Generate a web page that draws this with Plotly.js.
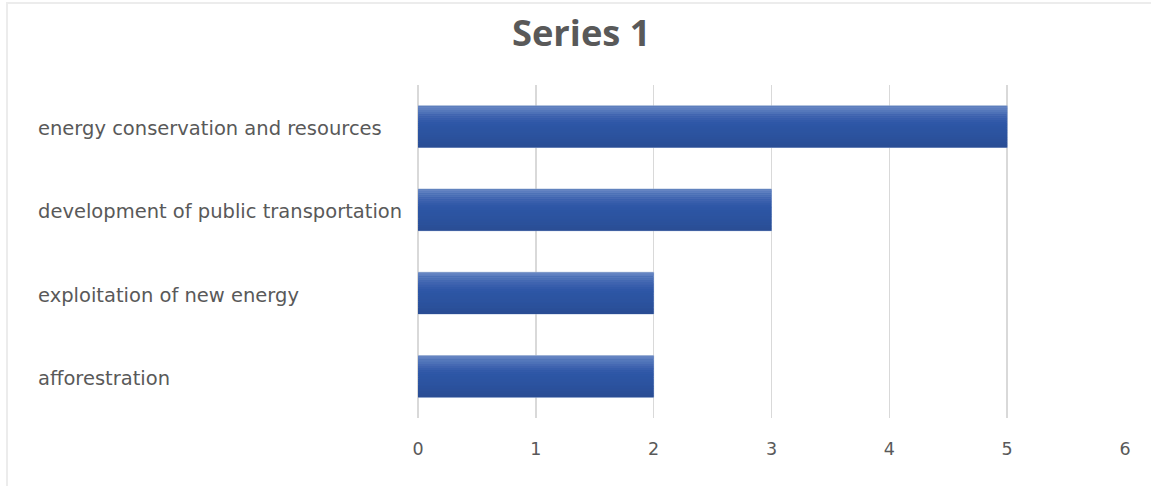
<!DOCTYPE html>
<html>
<head>
<meta charset="utf-8">
<script src="https://cdn.plot.ly/plotly-3.0.1.min.js"></script>
<style>
  html, body { margin: 0; padding: 0; background: #fff; }
  #frame { position: absolute; left: 0; top: 0; width: 1151px; height: 486px; overflow: hidden; }
  #edge { position: absolute; left: 6px; top: 2px; width: 1160px; height: 500px; border-left: 2px solid #ececec; border-top: 2px solid #ececec; pointer-events: none; }
  #chart { position: absolute; left: 0; top: 0; width: 1151px; height: 486px; }
</style>
</head>
<body>
<div id="frame">
  <div id="chart"></div>
  <div id="edge"></div>
</div>
<script>
// ---- data ----
const categories = [
  "energy conservation and resources",
  "development of public transportation",
  "exploitation of new energy",
  "afforestration"
];
const values = [5, 3, 2, 2];
const tickValues = [0, 1, 2, 3, 4, 5, 6];
const chartTitle = "Series 1";

// ---- style ----
const barWidth = 0.5;
const baseColor = "#2D58A5";
// gradient stripes from top (lighter) to bottom (darker)
const stripes = [
  "#6584C2", "#5D7EBF", "#5578BB", "#4D71B7", "#4669B3", "#3F63AF",
  "#385EAC", "#335AA9", "#2F57A7", "#2D56A5", "#2C55A3", "#2C54A2",
  "#2C54A1", "#2C539F", "#2B529E", "#2B519C", "#2B509A", "#2A4F98",
  "#2A4E96", "#2A4D94"
];
const textColor = "#595959";
const labelFont = "DejaVu Sans, Verdana, sans-serif";

const traces = [];
traces.push({
  type: "bar", orientation: "h",
  x: values, y: categories,
  width: barWidth,
  marker: { color: baseColor, line: { color: "rgba(160,180,215,0.8)", width: 1 } },
  hoverinfo: "x+y", showlegend: false
});
const h = barWidth / stripes.length;
stripes.forEach((c, i) => {
  traces.push({
    type: "bar", orientation: "h",
    x: values, y: categories,
    width: h * 1.05,
    offset: -barWidth / 2 + i * h + (i === 0 ? 0.006 : 0),
    marker: { color: c, line: { width: 0 } },
    hoverinfo: "skip", showlegend: false
  });
});

const annotations = categories.map(cat => ({
  xref: "paper", yref: "y",
  x: -0.5405, y: cat, yshift: -2,
  xanchor: "left", yanchor: "middle",
  text: cat, showarrow: false,
  font: { family: labelFont, size: 19.5, color: textColor }
}));

const layout = {
  width: 1151, height: 486,
  margin: { l: 418, r: 26, t: 85, b: 68 },
  paper_bgcolor: "rgba(0,0,0,0)", plot_bgcolor: "rgba(0,0,0,0)",
  barmode: "overlay",
  title: {
    text: "<b>" + chartTitle + "</b>",
    x: 0.505, xref: "container", xanchor: "center",
    y: 1 - 33 / 486, yref: "container", yanchor: "middle",
    font: { family: "Open Sans, Noto Sans, sans-serif", size: 36.3, color: textColor }
  },
  xaxis: {
    range: [0, 6], tickvals: tickValues, ticktext: tickValues.map(String),
    showgrid: true, gridcolor: "#d9d9d9", gridwidth: 1.5,
    zeroline: true, zerolinecolor: "#d9d9d9", zerolinewidth: 1.5,
    showline: false, ticks: "",
    ticklabelstandoff: 18,
    tickfont: { family: labelFont, size: 17.5, color: textColor },
    fixedrange: true
  },
  yaxis: {
    type: "category", categoryorder: "array", categoryarray: categories,
    autorange: "reversed",
    showticklabels: false, showgrid: false, zeroline: false, showline: false, ticks: "",
    fixedrange: true
  },
  annotations: annotations,
  showlegend: false
};

Plotly.newPlot("chart", traces, layout, { displayModeBar: false, staticPlot: true });
</script>
</body>
</html>
